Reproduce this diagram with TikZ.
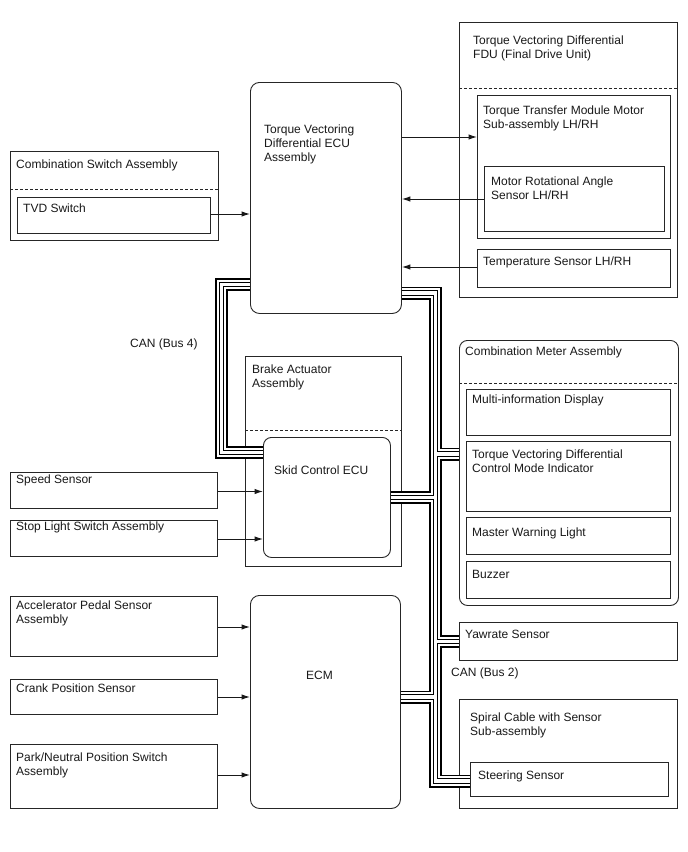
\documentclass[tikz,border=0pt]{standalone}
\usepackage{fontspec}
\setmainfont{Liberation Sans}
\usetikzlibrary{arrows.meta}
\pgfdeclarelayer{bottom}
\pgfdeclarelayer{buslayer}
\pgfsetlayers{bottom,buslayer,main}
\tikzset{
 bx/.style={draw=black!85, line width=0.9pt, fill=white, inner sep=0pt, anchor=north west},
 rbx/.style={bx, rounded corners=9pt},
 lbl/.style={font=\fontsize{12}{14}\selectfont, align=left, inner sep=0pt, anchor=north west, text=black!90},
 dsh/.style={draw=black!85, line width=0.9pt, dash pattern=on 3pt off 2pt},
 arr/.style={draw=black!90, line width=1pt, -{Latex[length=8.5pt,width=5.5pt]}},
}
\newcommand\canpaths{(tvecu.west |- 0,284.5) -- (221.5,284.5) -- (221.5,452.5) -- (skid.west |- 0,452.5)
 (tvecu.east |- 0,293) -- (435.5,293) -- (435.5,781) -- (steer.west |- 0,781)
 (435.5,454) -- (cmeter.west |- 0,454)
 (skid.east |- 0,497.5) -- (435.5,497.5)
 (435.5,641.5) -- (yaw.west |- 0,641.5)
 (ecm.east |- 0,697) -- (435.5,697)}
\begin{document}
\begin{tikzpicture}[x=1pt,y=-1pt,line join=miter]
\useasboundingbox (0,0) rectangle (688,852);
\begin{pgfonlayer}{bottom}
\fill[white] (0,0) rectangle (688,852);
% containers crossed by the bus
\node[bx, minimum width=156pt, minimum height=210pt] (brake) at (245,356) {};
\draw[dsh] (brake.west |- 0,430) -- (brake.east |- 0,430);
\node[bx, minimum width=218pt, minimum height=109pt] (spiral) at (459,699) {};
\end{pgfonlayer}

% FDU
\node[bx, minimum width=218pt, minimum height=275pt] (fdu) at (459,22) {};
\draw[dsh] (fdu.west |- 0,88) -- (fdu.east |- 0,88);
\node[lbl] (tfdu) at (473,35.5) {Torque Vectoring Differential\\FDU (Final Drive Unit)};
\node[bx, minimum width=193pt, minimum height=143pt] (ttm) at (477,95) {};
\node[lbl] (tttm) at (483,106) {Torque Transfer Module Motor\\Sub-assembly LH/RH};
\node[bx, minimum width=180pt, minimum height=65pt] (mras) at (484,166) {};
\node[lbl] (tmras) at (491,176.5) {Motor Rotational Angle\\Sensor LH/RH};
\node[bx, minimum width=193pt, minimum height=38pt] (temp) at (477,249) {};
\node[lbl] (ttemp) at (483,256.5) {Temperature Sensor LH/RH};

% TV ECU
\node[rbx, minimum width=151pt, minimum height=231pt] (tvecu) at (250,82) {};
\node[lbl] (ttvecu) at (264,124.5) {Torque Vectoring\\Differential ECU\\Assembly};

% Combination switch
\node[bx, minimum width=208pt, minimum height=89pt] (cswitch) at (10,151) {};
\draw[dsh] (cswitch.west |- 0,189) -- (cswitch.east |- 0,189);
\node[lbl] (tcswitch) at (16,159.5) {Combination Switch Assembly};
\node[bx, minimum width=193pt, minimum height=36pt] (tvd) at (17,197) {};
\node[lbl] (ttvd) at (23,203.5) {TVD Switch};

\node[lbl] (can4) at (130,338.5) {CAN (Bus 4)};

% Brake actuator
\node[lbl] (tbrake) at (252,364.5) {Brake Actuator\\Assembly};
\node[rbx, rounded corners=8pt, minimum width=127pt, minimum height=120pt] (skid) at (263,437) {};
\node[lbl] (tskid) at (274,466) {Skid Control ECU};

\node[bx, minimum width=207pt, minimum height=36pt] (speed) at (10,472) {};
\node[lbl] (tspeed) at (16,474.5) {Speed Sensor};
\node[bx, minimum width=207pt, minimum height=36pt] (stop) at (10,520) {};
\node[lbl] (tstop) at (16,522) {Stop Light Switch Assembly};

% Combination meter
\node[rbx, rounded corners=8pt, minimum width=219pt, minimum height=265pt] (cmeter) at (459,340) {};
\draw[dsh] (cmeter.west |- 0,383) -- (cmeter.east |- 0,383);
\node[lbl] (tcmeter) at (465,347) {Combination Meter Assembly};
\node[bx, minimum width=204pt, minimum height=46pt] (mid) at (466,389) {};
\node[lbl] (tmid) at (472,395) {Multi-information Display};
\node[bx, minimum width=204pt, minimum height=70pt] (ind) at (466,441) {};
\node[lbl] (tind) at (472,450) {Torque Vectoring Differential\\Control Mode Indicator};
\node[bx, minimum width=204pt, minimum height=37pt] (mwl) at (466,517) {};
\node[lbl] (tmwl) at (472,528) {Master Warning Light};
\node[bx, minimum width=204pt, minimum height=37pt] (buzz) at (466,561) {};
\node[lbl] (tbuzz) at (472,570.5) {Buzzer};

\node[bx, minimum width=218pt, minimum height=38pt] (yaw) at (459,622) {};
\node[lbl] (tyaw) at (465,630) {Yawrate Sensor};
\node[lbl] (can2) at (451,668) {CAN (Bus 2)};

\node[lbl] (tspiral) at (470,713) {Spiral Cable with Sensor\\Sub-assembly};
\node[bx, minimum width=198pt, minimum height=34pt] (steer) at (470,762) {};
\node[lbl] (tsteer) at (478,771) {Steering Sensor};

% ECM side
\node[bx, minimum width=207pt, minimum height=60pt] (accel) at (10,596) {};
\node[lbl] (taccel) at (16,601) {Accelerator Pedal Sensor\\Assembly};
\node[bx, minimum width=207pt, minimum height=35pt] (crank) at (10,679) {};
\node[lbl] (tcrank) at (16,684) {Crank Position Sensor};
\node[bx, minimum width=207pt, minimum height=64pt] (park) at (10,744) {};
\node[lbl] (tpark) at (16,752.5) {Park/Neutral Position Switch\\Assembly};
\node[rbx, minimum width=150pt, minimum height=213pt] (ecm) at (250,595) {};
\node[lbl] (tecm) at (306,670.5) {ECM};

% arrows
\draw[arr] (tvecu.east |- 0,137) -- (ttm.west |- 0,137);
\draw[arr] (mras.west |- 0,199) -- (tvecu.east |- 0,199);
\draw[arr] (temp.west |- 0,267) -- (tvecu.east |- 0,267);
\draw[arr] (tvd.east |- 0,214) -- (tvecu.west |- 0,214);
\draw[arr] (speed.east |- 0,491.5) -- (skid.west |- 0,491.5);
\draw[arr] (stop.east |- 0,539) -- (skid.west |- 0,539);
\draw[arr] (accel.east |- 0,627) -- (ecm.west |- 0,627);
\draw[arr] (crank.east |- 0,697) -- (ecm.west |- 0,697);
\draw[arr] (park.east |- 0,775) -- (ecm.west |- 0,775);

% CAN buses
\begin{pgfonlayer}{buslayer}
\draw[line width=13pt, black] \canpaths;
\draw[line width=9.4pt, white] \canpaths;
\draw[line width=5.3pt, black] \canpaths;
\draw[line width=3.4pt, white] \canpaths;
\end{pgfonlayer}
\end{tikzpicture}
\end{document}
